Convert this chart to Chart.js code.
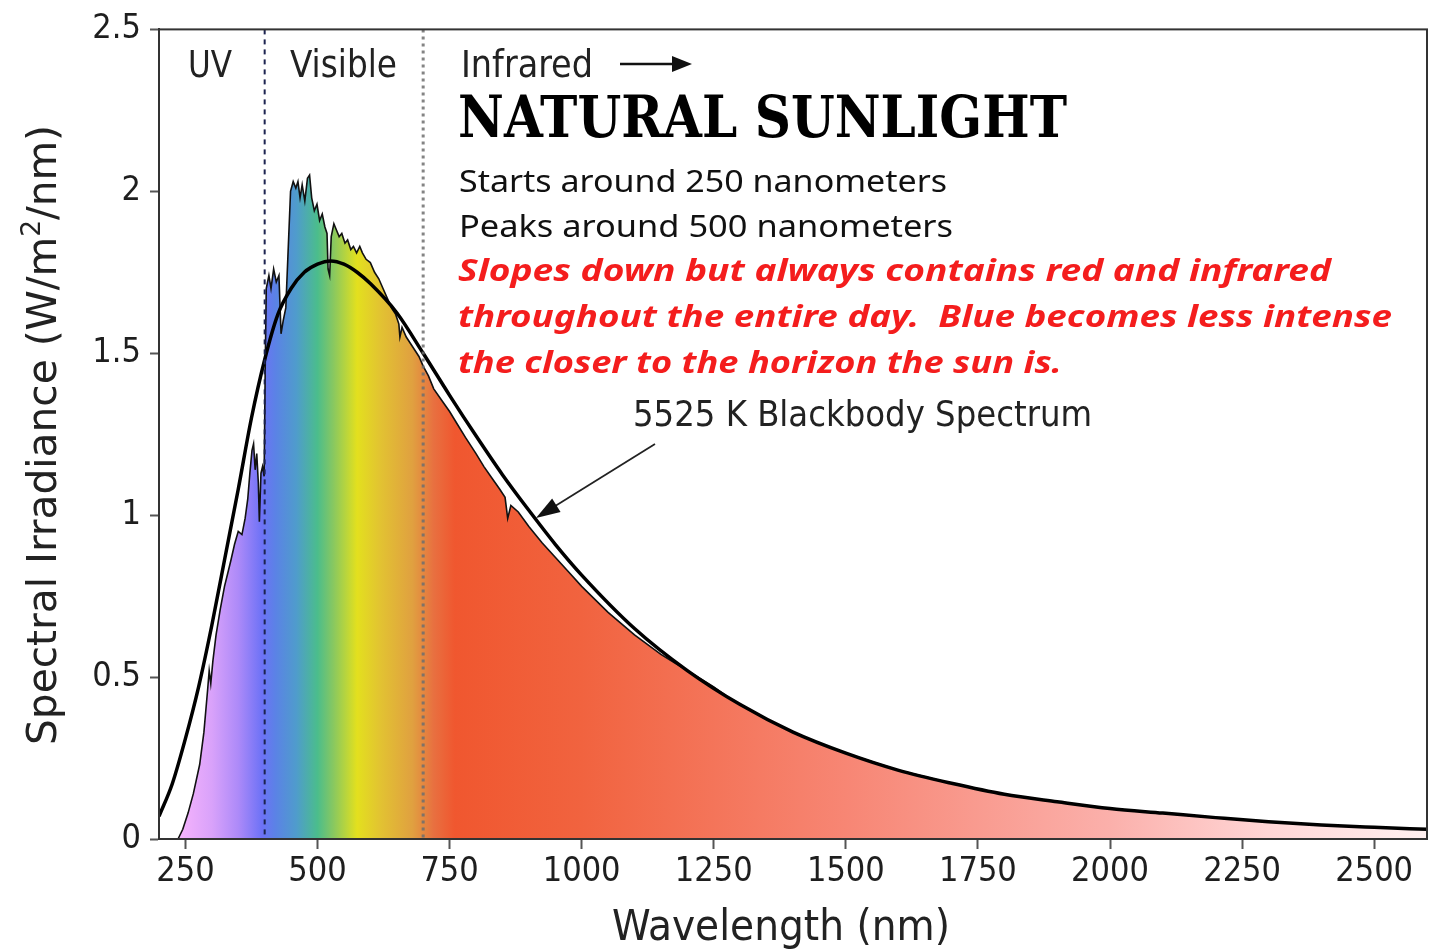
<!DOCTYPE html>
<html>
<head>
<meta charset="utf-8">
<title>Natural Sunlight</title>
<script src="https://cdn.jsdelivr.net/npm/chart.js@4.4.1/dist/chart.umd.min.js"></script>
<style>
  html, body { margin: 0; padding: 0; background: #fff; }
  #wrap { width: 1440px; height: 949px; }
</style>
</head>
<body>
<div id="wrap"><canvas id="c" width="1440" height="949"></canvas></div>
<script>
// tick values
const xTicks = [250, 500, 750, 1000, 1250, 1500, 1750, 2000, 2250, 2500];

const specNm = [236, 245, 255, 265, 277, 285, 292, 295, 298, 302, 308, 316, 324, 330, 336, 343, 350, 357, 363, 368,
  372, 376, 379, 382, 385, 388, 390, 393, 396, 399, 401, 403, 408, 412, 417, 422, 427, 431, 435, 440,
  444, 449, 454, 459, 463, 467, 471, 476, 481, 485, 489, 494, 499, 504, 509, 514, 518, 520, 523, 526,
  531, 536, 541, 546, 552, 557, 563, 568, 574, 580, 585, 592, 600, 608, 616, 624, 632, 640, 648, 654,
  656, 660, 668, 676, 684, 692, 700, 710, 720, 735, 750, 765, 780, 800, 815, 830, 845, 855, 860, 866,
  880, 900, 925, 950, 975, 1000, 1025, 1050, 1075, 1100, 1125, 1150, 1175, 1200, 1225, 1250, 1275, 1300, 1350, 1400,
  1450, 1500, 1600, 1700, 1800, 1900, 2000, 2100, 2200, 2300, 2400, 2500, 2600];
const specVal = [0, 0.03, 0.08, 0.14, 0.23, 0.33, 0.46, 0.52, 0.48, 0.55, 0.63, 0.71, 0.78, 0.82, 0.86, 0.91, 0.95, 0.94, 0.99, 1.05,
  1.13, 1.20, 1.22, 1.14, 1.19, 1.10, 0.98, 1.13, 1.15, 1.12, 1.45, 1.70, 1.74, 1.70, 1.76, 1.72, 1.74, 1.56, 1.60, 1.64,
  1.80, 2.00, 2.03, 2.01, 2.03, 1.98, 2.02, 1.97, 2.04, 2.05, 1.98, 1.94, 1.96, 1.91, 1.93, 1.89, 1.87, 1.76, 1.74, 1.86,
  1.90, 1.88, 1.86, 1.87, 1.84, 1.85, 1.82, 1.83, 1.81, 1.83, 1.81, 1.79, 1.78, 1.75, 1.73, 1.70, 1.67, 1.64, 1.62, 1.59,
  1.55, 1.58, 1.55, 1.53, 1.51, 1.49, 1.46, 1.43, 1.39, 1.355, 1.32, 1.28, 1.24, 1.19, 1.15, 1.115, 1.08, 1.055, 0.99, 1.03,
  1.01, 0.965, 0.915, 0.87, 0.825, 0.78, 0.74, 0.70, 0.665, 0.63, 0.60, 0.57, 0.545, 0.52, 0.495, 0.47, 0.44, 0.415, 0.37, 0.33,
  0.295, 0.265, 0.212, 0.172, 0.138, 0.115, 0.094, 0.08, 0.066, 0.053, 0.043, 0.036, 0.030];

// 5525 K blackbody curve
const bbNm = [200, 225, 250, 275, 300, 325, 350, 375, 400, 425, 450, 475, 500, 525, 550, 575, 600, 650, 700, 750,
  800, 850, 900, 950, 1000, 1100, 1200, 1300, 1400, 1500, 1600, 1700, 1800, 1900, 2000, 2100, 2200, 2300, 2400, 2500, 2600];
const bbVal = [0.07, 0.17, 0.31, 0.47, 0.66, 0.87, 1.08, 1.30, 1.48, 1.62, 1.70, 1.75, 1.775, 1.785, 1.775, 1.75, 1.715, 1.625, 1.50, 1.37,
  1.245, 1.125, 1.015, 0.91, 0.815, 0.65, 0.52, 0.415, 0.33, 0.265, 0.212, 0.172, 0.138, 0.115, 0.094, 0.08, 0.066, 0.053, 0.043, 0.036, 0.030];

// region boundaries
const regionEdges = [400, 700];

// fill colour along wavelength
const gradNm = [236, 300, 350, 395, 420, 460, 500, 530, 575, 620, 680, 720, 760, 1000, 1500, 2000, 2300, 2600];
const gradColor = ['#f7b4fc', '#d9a2fa', '#ad8af8', '#6d72f6', '#5b82e6', '#4f9ccc', '#4bbd8c', '#88c860', '#e3e01e', '#e2c232',
  '#e0a040', '#e87040', '#f0572f', '#f1633f', '#f78674', '#fbb0ab', '#ffd6d6', '#fff0f0'];

const FONT = '"DejaVu Sans Condensed", "DejaVu Sans", sans-serif';

function fitText(ctx, str, x, y, w, font, color) {
  ctx.save();
  ctx.font = font;
  ctx.fillStyle = color;
  ctx.textAlign = 'left';
  ctx.textBaseline = 'alphabetic';
  const m = ctx.measureText(str).width;
  ctx.translate(x, y);
  ctx.scale(w / m, 1);
  ctx.fillText(str, 0, 0);
  ctx.restore();
}

function arrowHead(ctx, x0, y0, x1, y1, len, half) {
  const a = Math.atan2(y1 - y0, x1 - x0);
  ctx.beginPath();
  ctx.moveTo(x1, y1);
  ctx.lineTo(x1 - len * Math.cos(a) + half * Math.sin(a), y1 - len * Math.sin(a) - half * Math.cos(a));
  ctx.lineTo(x1 - len * Math.cos(a) - half * Math.sin(a), y1 - len * Math.sin(a) + half * Math.cos(a));
  ctx.closePath();
  ctx.fill();
}

const decor = {
  id: 'decor',
  afterDatasetsDraw(chart) {
    const { ctx, chartArea: a, scales } = chart;
    ctx.save();
    // region lines
    const x400 = scales.x.getPixelForValue(regionEdges[0]);
    const x700 = scales.x.getPixelForValue(regionEdges[1]);
    ctx.lineWidth = 2;
    ctx.strokeStyle = '#1c2350';
    ctx.setLineDash([5, 5]);
    ctx.beginPath(); ctx.moveTo(x400, a.top); ctx.lineTo(x400, a.bottom); ctx.stroke();
    ctx.lineWidth = 3;
    ctx.strokeStyle = 'rgba(110,110,110,0.85)';
    ctx.setLineDash([3, 4]);
    ctx.beginPath(); ctx.moveTo(x700, a.top); ctx.lineTo(x700, a.bottom); ctx.stroke();
    ctx.setLineDash([]);
    // frame
    ctx.lineWidth = 2;
    ctx.strokeStyle = '#333';
    ctx.strokeRect(a.left, a.top, a.right - a.left, a.bottom - a.top);
    ctx.restore();
  },
  afterDraw(chart) {
    const { ctx } = chart;
    ctx.save();
    // region labels
    fitText(ctx, 'UV', 188, 77, 44, '37px ' + FONT, '#222');
    fitText(ctx, 'Visible', 290, 77, 107, '37px ' + FONT, '#222');
    fitText(ctx, 'Infrared', 461, 77, 132, '37px ' + FONT, '#222');
    ctx.strokeStyle = '#111';
    ctx.fillStyle = '#111';
    ctx.lineWidth = 2.5;
    ctx.beginPath(); ctx.moveTo(620, 64); ctx.lineTo(678, 64); ctx.stroke();
    arrowHead(ctx, 620, 64, 692, 64, 20, 8);

    // headline block
    fitText(ctx, 'NATURAL SUNLIGHT', 458, 137, 609, 'bold 58px "DejaVu Serif", serif', '#000');
    fitText(ctx, 'Starts around 250 nanometers', 459, 192, 488, '30px "Noto Sans", sans-serif', '#111');
    fitText(ctx, 'Peaks around 500 nanometers', 459, 237, 494, '30px "Noto Sans", sans-serif', '#111');
    const red = '#f41d1d';
    const rf = 'italic bold 31px "Noto Sans", sans-serif';
    fitText(ctx, 'Slopes down but always contains red and infrared', 458, 281, 873, rf, red);
    fitText(ctx, 'throughout the entire day.  Blue becomes less intense', 458, 327, 934, rf, red);
    fitText(ctx, 'the closer to the horizon the sun is.', 458, 373, 604, rf, red);

    // blackbody annotation
    fitText(ctx, '5525 K Blackbody Spectrum', 633, 426, 459, '35px ' + FONT, '#222');
    ctx.strokeStyle = '#222';
    ctx.fillStyle = '#111';
    ctx.lineWidth = 1.8;
    ctx.beginPath(); ctx.moveTo(655, 444); ctx.lineTo(552, 508); ctx.stroke();
    arrowHead(ctx, 655, 444, 536, 518, 24, 8);

    // axis titles
    fitText(ctx, 'Wavelength (nm)', 612, 940, 338, '42px ' + FONT, '#222');

    ctx.translate(56, 745);
    ctx.rotate(-Math.PI / 2);
    const big = '40px ' + FONT, small = '26px ' + FONT;
    ctx.font = big;
    const p1 = 'Spectral Irradiance (W/m', p3 = '/nm)';
    const w1 = ctx.measureText(p1).width, w3 = ctx.measureText(p3).width;
    ctx.font = small;
    const w2 = ctx.measureText('2').width;
    const s = 620 / (w1 + w2 + w3);
    ctx.scale(s, 1);
    ctx.fillStyle = '#222';
    ctx.textBaseline = 'alphabetic';
    ctx.font = big; ctx.fillText(p1, 0, 0);
    ctx.font = small; ctx.fillText('2', w1, -16);
    ctx.font = big; ctx.fillText(p3, w1 + w2, 0);
    ctx.restore();
  }
};

function spectrumFill(context) {
  const chart = context.chart;
  const { chartArea, scales } = chart;
  if (!chartArea) return null;
  const x0 = scales.x.getPixelForValue(200);
  const x1 = scales.x.getPixelForValue(2600);
  const g = chart.ctx.createLinearGradient(x0, 0, x1, 0);
  gradNm.forEach((nm, i) => g.addColorStop((nm - 200) / 2400, gradColor[i]));
  return g;
}

new Chart(document.getElementById('c'), {
  type: 'line',
  data: {
    datasets: [
      {
        label: '5525 K Blackbody Spectrum',
        data: bbNm.map((x, i) => ({ x, y: bbVal[i] })),
        borderColor: '#000',
        borderWidth: 3.5,
        pointRadius: 0,
        fill: false,
        cubicInterpolationMode: 'monotone'
      },
      {
        label: 'Solar spectrum',
        data: specNm.map((x, i) => ({ x, y: specVal[i] })),
        borderColor: '#111',
        borderWidth: 1.6,
        pointRadius: 0,
        tension: 0,
        fill: 'origin',
        backgroundColor: spectrumFill
      }
    ]
  },
  options: {
    responsive: false,
    animation: false,
    layout: { padding: { top: 25, right: 13, left: 0, bottom: 0 } },
    plugins: { legend: { display: false }, tooltip: { enabled: false } },
    scales: {
      x: {
        type: 'linear',
        min: 200,
        max: 2600,
        afterFit: s => { s.height = 110; },
        afterBuildTicks: s => { s.ticks = xTicks.map(v => ({ value: v })); },
        grid: { drawOnChartArea: false, color: '#555', tickLength: 10, tickWidth: 2 },
        border: { color: '#333', width: 2 },
        ticks: { color: '#1e1e1e', font: { family: FONT, size: 34 }, padding: 3, maxRotation: 0, autoSkip: false,
          callback: v => String(v) }
      },
      y: {
        min: 0,
        max: 2.5,
        afterFit: s => { s.width = 159; },
        grid: { drawOnChartArea: false, color: '#555', tickLength: 9, tickWidth: 2 },
        border: { color: '#333', width: 2 },
        ticks: { stepSize: 0.5, color: '#1e1e1e', font: { family: FONT, size: 34 }, padding: 9,
          callback: v => String(v) }
      }
    }
  },
  plugins: [decor]
});
</script>
</body>
</html>
